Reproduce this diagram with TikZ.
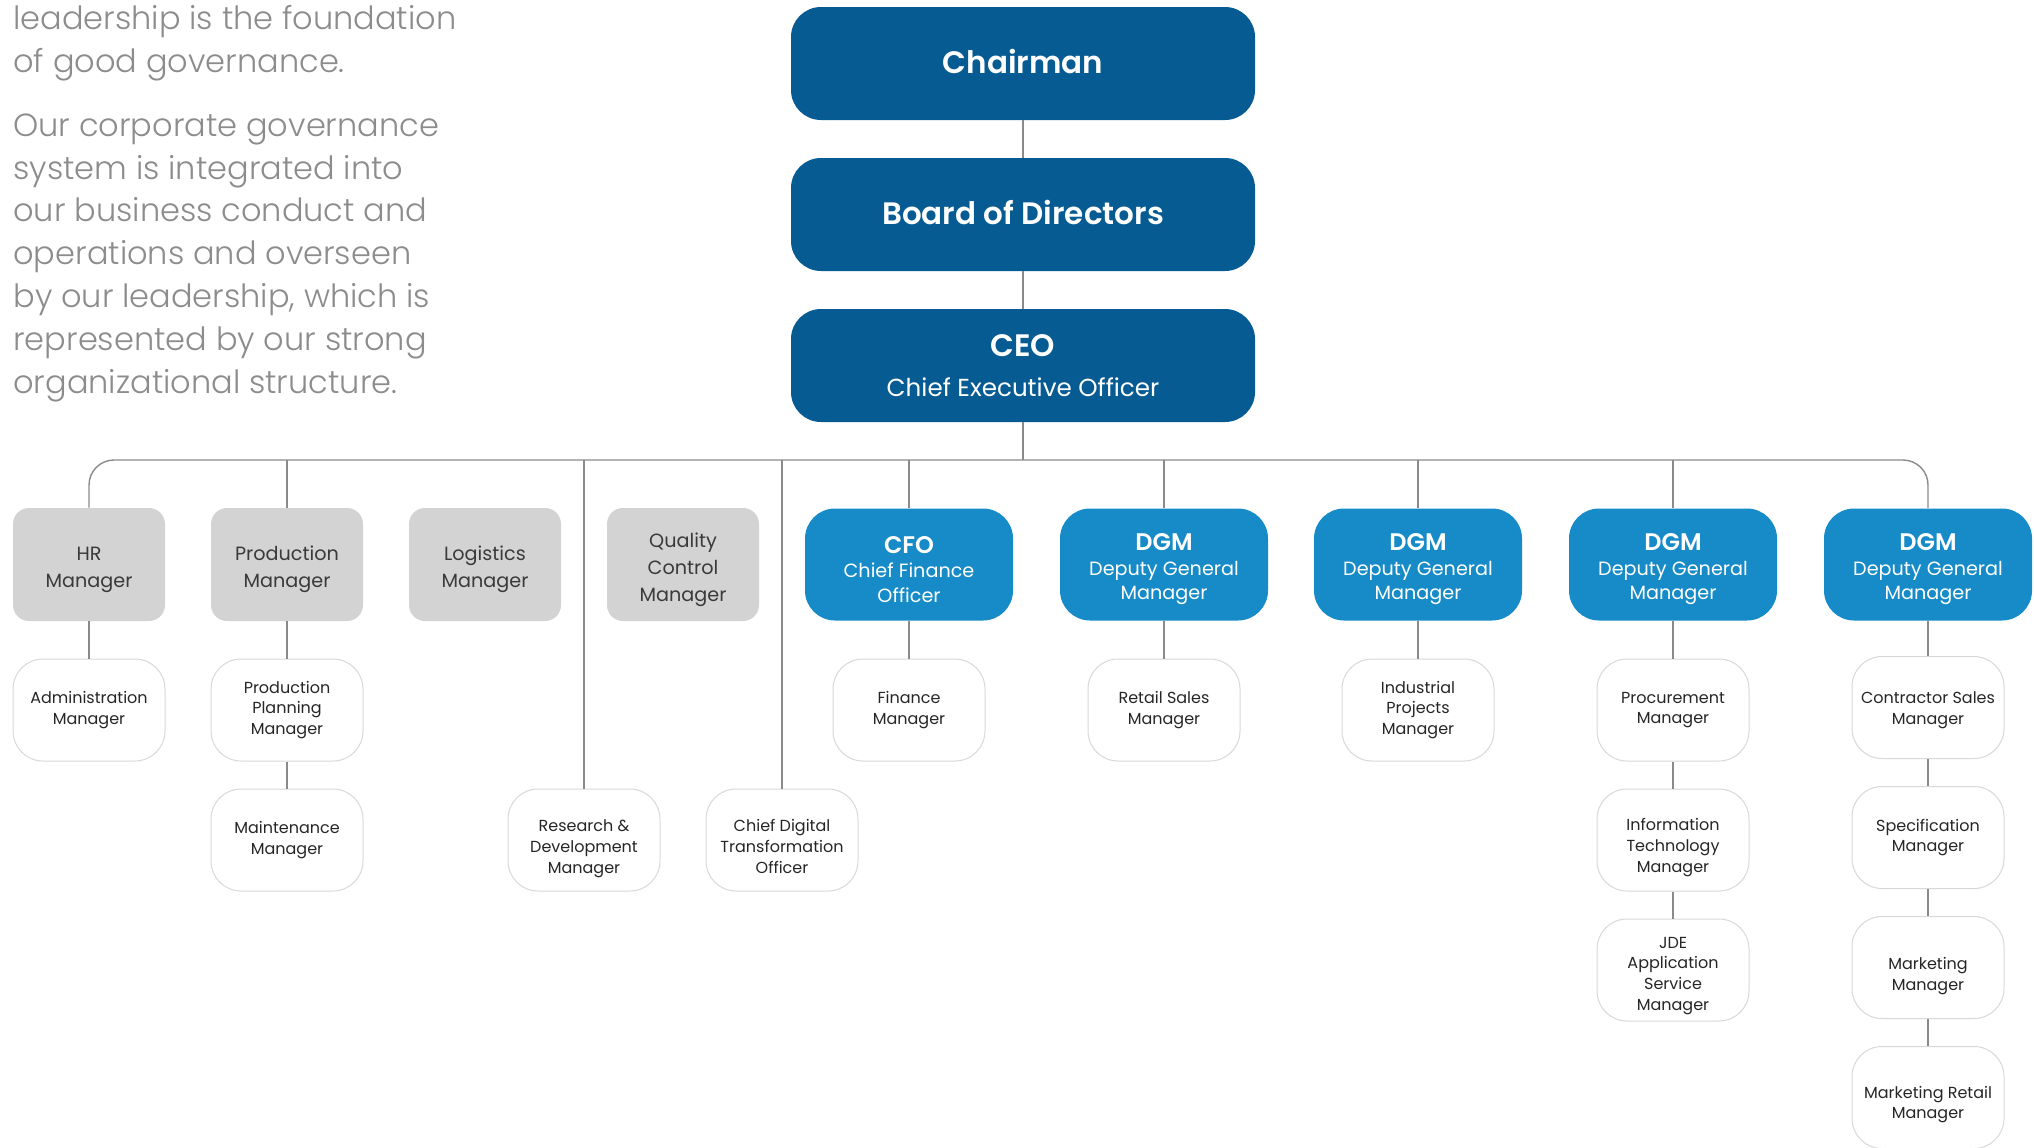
\documentclass[tikz,border=0pt]{standalone}
\usepackage{fontspec}
\setmainfont{Poppins}[BoldFont={Poppins SemiBold}]
\newfontfamily\lightfont{Poppins Light}
\usetikzlibrary{positioning}
\definecolor{navy}{HTML}{065B92}
\definecolor{sky}{HTML}{168BC7}
\definecolor{boxgray}{HTML}{D3D3D3}
\definecolor{linegray}{HTML}{8A8A8A}
\definecolor{textgray}{HTML}{8C8C8C}
\definecolor{rimgray}{HTML}{D8D8D8}
\definecolor{inkgray}{HTML}{3A3A3A}
\tikzstyle{link} = [draw=linegray, line width=0.7pt]
\tikzstyle{topbox} = [rectangle, rounded corners=15pt, minimum width=232pt, minimum height=56.5pt, inner sep=0pt, fill=navy, text=white, align=center, text depth=2.6pt, font=\fontsize{15.5}{20}\selectfont\bfseries]
\tikzstyle{headbox} = [rectangle, rounded corners=15pt, minimum width=104pt, minimum height=56pt, inner sep=0pt, fill=sky, text=white, align=center, font=\fontsize{9.6}{12.3}\selectfont]
\tikzstyle{deptbox} = [rectangle, rounded corners=8pt, minimum width=76pt, minimum height=56.5pt, inner sep=0pt, fill=boxgray, text=inkgray, align=center, font=\fontsize{9.6}{13.5}\selectfont]
\tikzstyle{unitbox} = [rectangle, rounded corners=15pt, minimum width=76pt, minimum height=51pt, inner sep=0pt, draw=rimgray, line width=0.5pt, fill=white, text=black!85, align=center, font=\fontsize{8}{10.4}\selectfont]
\tikzstyle{blurb} = [anchor=base west, inner sep=0pt, align=left, text=textgray, font=\fontsize{16}{21.4}\selectfont\lightfont]
\newcommand{\lift}[1]{\rule{0pt}{#1}}
\newcommand{\headline}[1]{{\lift{13.4pt}\fontsize{12}{12.3}\selectfont\bfseries #1}}

\begin{document}
\begin{tikzpicture}[x=0.5pt, y=-0.5pt, node distance=65pt]
\useasboundingbox (0,0) rectangle (2034,1147);
\clip (0,0) rectangle (2034,1147);

% Intro text
\node (blurba) [blurb] at (13,72.6) {leadership is the foundation\\of good governance.};
\node (blurbb) [blurb] at (13,393) {Our corporate governance\\system is integrated into\\our business conduct and\\operations and overseen\\by our leadership, which is\\represented by our strong\\organizational structure.};

% Top of the chart
\node (chair) [topbox] at (1023,63.5) {Chairman};
\node (board) [topbox] at (1023,214.5) {Board of Directors};
\node (ceo) [topbox, text depth=-3.2pt] at (1023,365.5) {CEO\\{\fontsize{12.3}{20}\selectfont\mdseries Chief Executive Officer}};

% Managers reporting to the CEO
\node (hr) [deptbox] at (89,564.5) {\lift{12.2pt}HR\\Manager};
\node (prod) [deptbox] at (287,564.5) {\lift{12.2pt}Production\\Manager};
\node (logi) [deptbox] at (485,564.5) {\lift{12.2pt}Logistics\\Manager};
\node (qc) [deptbox] at (683,564.5) {\lift{12.2pt}Quality\\Control\\Manager};
\node (cfo) [headbox] at (909,564.5) {\headline{CFO}\\Chief Finance\\Officer};
\node (dgma) [headbox] at (1164,564.5) {\headline{DGM}\\Deputy General\\Manager};
\node (dgmb) [headbox] at (1418,564.5) {\headline{DGM}\\Deputy General\\Manager};
\node (dgmc) [headbox] at (1673,564.5) {\headline{DGM}\\Deputy General\\Manager};
\node (dgmd) [headbox] at (1928,564.5) {\headline{DGM}\\Deputy General\\Manager};

% Second level
\node (admin) [unitbox, below of=hr, yshift=-7.75pt] {Administration\\Manager};
\node (plan) [unitbox, below of=prod, yshift=-7.75pt] {Production\\Planning\\Manager};
\node (maint) [unitbox, below of=plan] {Maintenance\\Manager};
\node (rnd) [unitbox] at (584,840) {\lift{14.9pt}Research \&\\Development\\Manager};
\node (cdto) [unitbox] at (782,840) {\lift{12.4pt}Chief Digital\\Transformation\\Officer};
\node (fin) [unitbox, below of=cfo, yshift=-7.75pt] {Finance\\Manager};
\node (retail) [unitbox, below of=dgma, yshift=-7.75pt] {Retail Sales\\Manager};
\node (indus) [unitbox, below of=dgmb, yshift=-7.75pt] {Industrial\\Projects\\Manager};
\node (procure) [unitbox, below of=dgmc, yshift=-7.75pt] {Procurement\\Manager};
\node (itm) [unitbox, below of=procure] {\lift{13.7pt}Information\\Technology\\Manager};
\node (jde) [unitbox, below of=itm] {\lift{11.5pt}JDE\\Application\\Service\\Manager};
\node (contract) [unitbox, below of=dgmd, yshift=-6.5pt] {\lift{8.5pt}Contractor Sales\\Manager};
\node (spec) [unitbox, below of=contract] {Specification\\Manager};
\node (market) [unitbox, below of=spec] {\lift{14.9pt}Marketing\\Manager};
\node (mretail) [unitbox, below of=market] {\lift{13.1pt}Marketing Retail\\Manager};

% Lines
\coordinate (bus) at (1023,460);
\draw [link] (chair) -- (board);
\draw [link] (board) -- (ceo);
\draw [link] (ceo) -- (ceo |- bus);
\draw [link, rounded corners=12.5pt] (hr.north) -- (hr.north |- bus) -- (dgmd.north |- bus) -- (dgmd.north);
\draw [link] (prod.north |- bus) -- (prod.north);
\draw [link] (rnd.north |- bus) -- (rnd.north);
\draw [link] (cdto.north |- bus) -- (cdto.north);
\draw [link] (cfo.north |- bus) -- (cfo.north);
\draw [link] (dgma.north |- bus) -- (dgma.north);
\draw [link] (dgmb.north |- bus) -- (dgmb.north);
\draw [link] (dgmc.north |- bus) -- (dgmc.north);
\draw [link] (hr) -- (admin);
\draw [link] (prod) -- (plan);
\draw [link] (plan) -- (maint);
\draw [link] (cfo) -- (fin);
\draw [link] (dgma) -- (retail);
\draw [link] (dgmb) -- (indus);
\draw [link] (dgmc) -- (procure);
\draw [link] (procure) -- (itm);
\draw [link] (itm) -- (jde);
\draw [link] (dgmd) -- (contract);
\draw [link] (contract) -- (spec);
\draw [link] (spec) -- (market);
\draw [link] (market) -- (mretail);

\end{tikzpicture}
\end{document}
